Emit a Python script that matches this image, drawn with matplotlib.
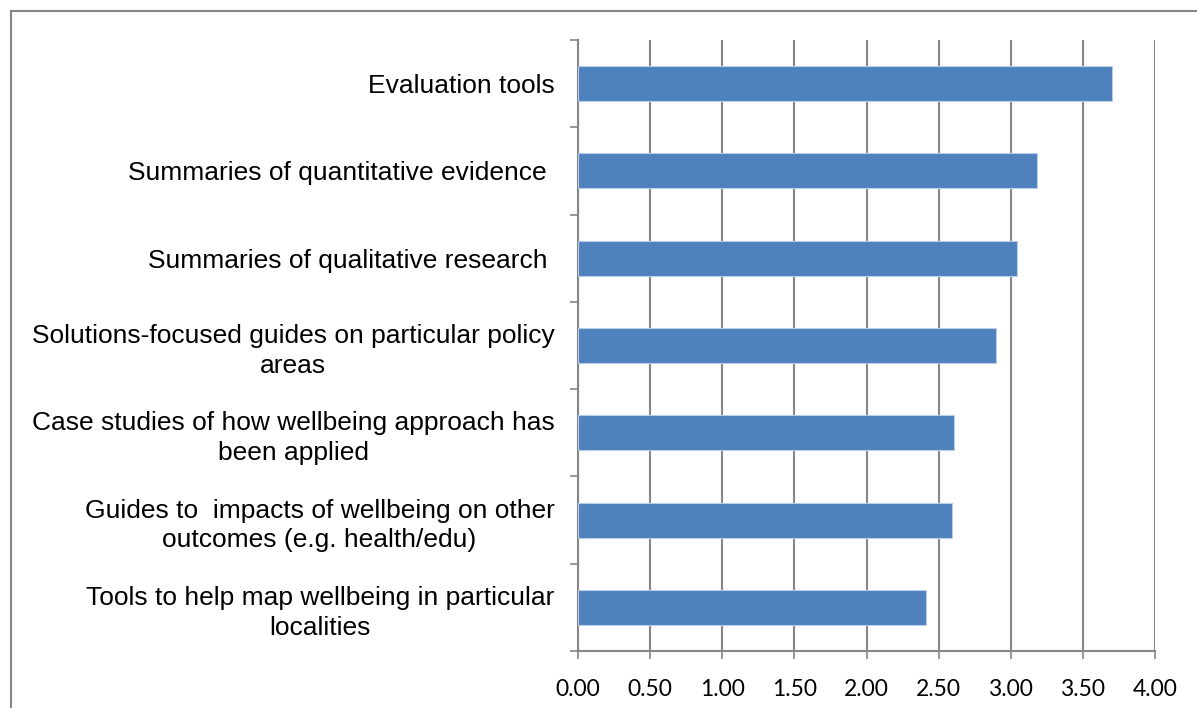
import matplotlib
matplotlib.use("Agg")
import matplotlib.pyplot as plt
from matplotlib.lines import Line2D
import numpy as np

categories = [
    "Evaluation tools",
    "Summaries of quantitative evidence ",
    "Summaries of qualitative research ",
    "Solutions-focused guides on particular policy\nareas",
    "Case studies of how wellbeing approach has\nbeen applied",
    "Guides to  impacts of wellbeing on other\noutcomes (e.g. health/edu)",
    "Tools to help map wellbeing in particular\nlocalities",
]
values = [3.70, 3.18, 3.04, 2.90, 2.61, 2.59, 2.41]
xticks = [0.0, 0.5, 1.0, 1.5, 2.0, 2.5, 3.0, 3.5, 4.0]

grid_col = "#868686"

fig = plt.figure(figsize=(11.97, 7.08), dpi=100)
ax = fig.add_axes([0.4829, 0.0805, 0.9649 - 0.4829, 0.9435 - 0.0805])

ypos = np.arange(len(categories))[::-1]
ax.barh(ypos, values, height=0.4, color="#4F81BD", edgecolor="#B9CDE5", linewidth=0.8, zorder=3)

ax.set_xlim(0, 4)
ax.set_ylim(-0.5, len(categories) - 0.5)
ax.set_xticks(xticks)
ax.set_xticklabels(["%.2f" % x for x in xticks], family="Lato", fontsize=16.5)
ax.xaxis.grid(True, color=grid_col, linewidth=1.5, zorder=0)

ax.set_yticks(np.arange(-0.5, len(categories), 1.0))
ax.set_yticklabels([])
ax.set_yticks(ypos, minor=True)
ax.set_yticklabels(categories, minor=True, family="Liberation Sans", fontsize=19)
for t in ax.get_yticklabels(minor=True):
    t.set_multialignment("center")
    t.set_linespacing(1.3)
ax.tick_params(axis="y", which="minor", length=0, pad=17)
ax.tick_params(axis="y", which="major", length=6, width=1.2, color=grid_col, direction="out")
ax.tick_params(axis="x", length=6, width=1.2, color=grid_col, direction="out", pad=14)

for s in ["top", "right"]:
    ax.spines[s].set_visible(False)
for s in ["left", "bottom"]:
    ax.spines[s].set_color(grid_col)
    ax.spines[s].set_linewidth(1.5)

# outer chart border (left and top edges visible)
fx = 10.5 / 1197
fy = 1 - 10.5 / 708
fig.add_artist(Line2D([fx, fx], [0, fy], color=grid_col, linewidth=1.5, transform=fig.transFigure))
fig.add_artist(Line2D([fx, 1], [fy, fy], color=grid_col, linewidth=1.5, transform=fig.transFigure))

fig.savefig("out.png", dpi=100)
